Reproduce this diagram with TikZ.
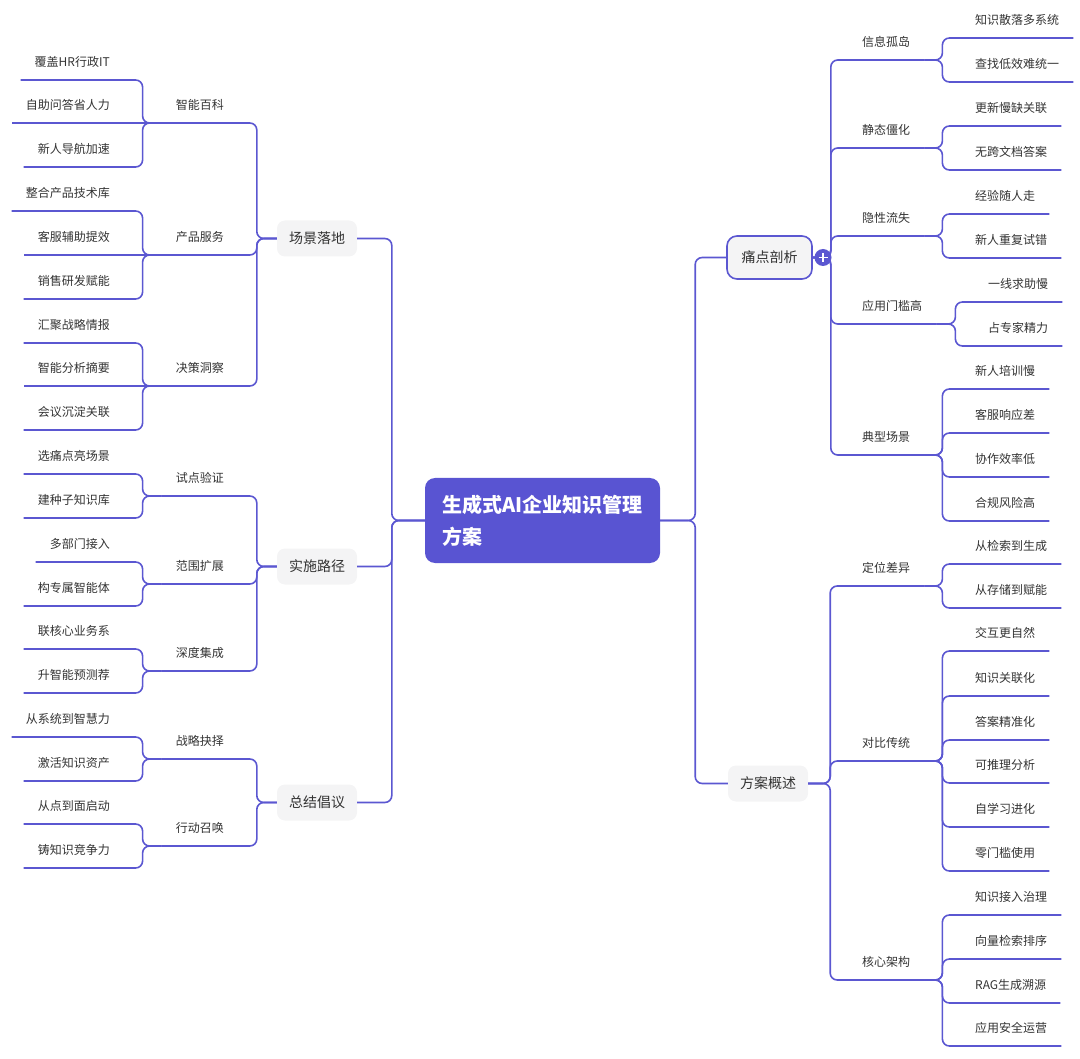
\documentclass[tikz,border=0pt]{standalone}
\usepackage{fontspec}
\setmainfont{Noto Sans CJK SC}
\usetikzlibrary{positioning}
\definecolor{mmline}{HTML}{5B57D1}
\definecolor{mmfill}{HTML}{5954D2}
\definecolor{topicfill}{HTML}{F4F4F5}
\definecolor{ink}{HTML}{333333}

\begin{document}
\begin{tikzpicture}[
        x=1pt, y=-1pt,
        link/.style={draw=mmline, line width=1.6pt, rounded corners=7pt},
        hub/.style={fill=mmfill, rounded corners=10pt, text=white, align=left, inner sep=0pt,
            minimum width=235pt, minimum height=85pt, font=\fontsize{20}{32}\selectfont\bfseries},
        topic/.style={fill=topicfill, rounded corners=8pt, text=ink, inner sep=0pt,
            minimum width=80pt, minimum height=36pt, font=\fontsize{14}{17}\selectfont},
        sub/.style={text=ink, inner xsep=14pt, inner ysep=0pt, text height=10pt, text depth=13.5pt,
            font=\fontsize{12}{14}\selectfont},
        lleaf/.style={sub, anchor=south east},
        rleaf/.style={sub, anchor=south west},
        fold/.style={circle, fill=mmline, inner sep=0pt, minimum size=17pt,
            path picture={
                \draw[white, line width=1.8pt]
                    ([xshift=-4.5pt]path picture bounding box.center) -- ([xshift=4.5pt]path picture bounding box.center)
                    ([yshift=-4.5pt]path picture bounding box.center) -- ([yshift=4.5pt]path picture bounding box.center);
            }}
    ]
        \useasboundingbox (0,0) rectangle (1080,1059);

        % Root
        \node[hub] (root) at (542.5,520.5) {生成式AI企业知识管理\\方案};

        % Main topics
        \node[topic] (scene) at (317,238.5) {场景落地};
        \node[topic] (route) at (317,566.5) {实施路径};
        \node[topic] (summ) at (317,802.5) {总结倡议};
        \node[topic, draw=mmline, line width=1.6pt, rounded corners=10pt, minimum width=85pt, minimum height=43pt] (pain) at (769.5,257.5) {痛点剖析};
        \node[topic] (plan) at (768,783.5) {方案概述};

        % Left subtopics
        \node[lleaf] (wiki) at (238,123) {智能百科};
        \node[lleaf] (prod) at (238,255) {产品服务};
        \node[lleaf] (deci) at (238,386) {决策洞察};
        \node[lleaf] (pilot) at (238,496) {试点验证};
        \node[lleaf] (scale) at (238,584) {范围扩展};
        \node[lleaf] (integ) at (238,671) {深度集成};
        \node[lleaf] (strat) at (238,759) {战略抉择};
        \node[lleaf] (act) at (238,846) {行动召唤};

        % Right subtopics
        \node[rleaf] (silo) at (848,60) {信息孤岛};
        \node[rleaf] (stale) at (848,148) {静态僵化};
        \node[rleaf] (tacit) at (848,236) {隐性流失};
        \node[rleaf] (gate) at (848,324) {应用门槛高};
        \node[rleaf] (cases) at (848,455) {典型场景};
        \node[rleaf] (posit) at (848,586) {定位差异};
        \node[rleaf] (comp) at (848,761) {对比传统};
        \node[rleaf] (arch) at (848,980) {核心架构};

        % Left leaves
        \node[lleaf] (wiki1) at (124,80) {覆盖HR行政IT};
        \node[lleaf] (wiki2) at (124,123) {自助问答省人力};
        \node[lleaf] (wiki3) at (124,167) {新人导航加速};
        \node[lleaf] (prod1) at (124,211) {整合产品技术库};
        \node[lleaf] (prod2) at (124,255) {客服辅助提效};
        \node[lleaf] (prod3) at (124,299) {销售研发赋能};
        \node[lleaf] (deci1) at (124,343) {汇聚战略情报};
        \node[lleaf] (deci2) at (124,386) {智能分析摘要};
        \node[lleaf] (deci3) at (124,430) {会议沉淀关联};
        \node[lleaf] (pilot1) at (124,474) {选痛点亮场景};
        \node[lleaf] (pilot2) at (124,518) {建种子知识库};
        \node[lleaf] (scale1) at (124,562) {多部门接入};
        \node[lleaf] (scale2) at (124,606) {构专属智能体};
        \node[lleaf] (integ1) at (124,649) {联核心业务系};
        \node[lleaf] (integ2) at (124,693) {升智能预测荐};
        \node[lleaf] (strat1) at (124,737) {从系统到智慧力};
        \node[lleaf] (strat2) at (124,781) {激活知识资产};
        \node[lleaf] (act1) at (124,824) {从点到面启动};
        \node[lleaf] (act2) at (124,868) {铸知识竞争力};

        % Right leaves
        \node[rleaf] (silo1) at (961,38) {知识散落多系统};
        \node[rleaf] (silo2) at (961,82) {查找低效难统一};
        \node[rleaf] (stale1) at (961,126) {更新慢缺关联};
        \node[rleaf] (stale2) at (961,170) {无跨文档答案};
        \node[rleaf] (tacit1) at (961,214) {经验随人走};
        \node[rleaf] (tacit2) at (961,258) {新人重复试错};
        \node[rleaf] (gate1) at (974,302) {一线求助慢};
        \node[rleaf] (gate2) at (974,346) {占专家精力};
        \node[rleaf] (cases1) at (961,389) {新人培训慢};
        \node[rleaf] (cases2) at (961,433) {客服响应差};
        \node[rleaf] (cases3) at (961,477) {协作效率低};
        \node[rleaf] (cases4) at (961,521) {合规风险高};
        \node[rleaf] (posit1) at (961,564) {从检索到生成};
        \node[rleaf] (posit2) at (961,608) {从存储到赋能};
        \node[rleaf] (comp1) at (961,651) {交互更自然};
        \node[rleaf] (comp2) at (961,696) {知识关联化};
        \node[rleaf] (comp3) at (961,740) {答案精准化};
        \node[rleaf] (comp4) at (961,783) {可推理分析};
        \node[rleaf] (comp5) at (961,827) {自学习进化};
        \node[rleaf] (comp6) at (961,871) {零门槛使用};
        \node[rleaf] (arch1) at (961,915) {知识接入治理};
        \node[rleaf] (arch2) at (961,959) {向量检索排序};
        \node[rleaf] (arch3) at (961,1003) {RAG生成溯源};
        \node[rleaf] (arch4) at (961,1046) {应用安全运营};

        % Root to main topics
        \draw[link] (root.west) -- ++(-33,0) |- (scene.east);
        \draw[link] (root.west) -- ++(-33,0) |- (route.east);
        \draw[link] (root.west) -- ++(-33,0) |- (summ.east);
        \draw[link] (root.east) -- ++(35,0) |- (pain.west);
        \draw[link] (root.east) -- ++(35,0) |- (plan.west);

        % Main topics to subtopics
        \draw[link] (scene.west) -- ++(-20,0) |- (wiki.south east) -- (wiki.south west);
        \draw[link] (scene.west) -- ++(-20,0) |- (prod.south east) -- (prod.south west);
        \draw[link] (scene.west) -- ++(-20,0) |- (deci.south east) -- (deci.south west);
        \draw[link] (route.west) -- ++(-20,0) |- (pilot.south east) -- (pilot.south west);
        \draw[link] (route.west) -- ++(-20,0) |- (scale.south east) -- (scale.south west);
        \draw[link] (route.west) -- ++(-20,0) |- (integ.south east) -- (integ.south west);
        \draw[link] (summ.west) -- ++(-20,0) |- (strat.south east) -- (strat.south west);
        \draw[link] (summ.west) -- ++(-20,0) |- (act.south east) -- (act.south west);
        \draw[link] (pain.east) -- ++(18,0) |- (silo.south west) -- (silo.south east);
        \draw[link] (pain.east) -- ++(18,0) |- (stale.south west) -- (stale.south east);
        \draw[link] (pain.east) -- ++(18,0) |- (tacit.south west) -- (tacit.south east);
        \draw[link] (pain.east) -- ++(18,0) |- (gate.south west) -- (gate.south east);
        \draw[link] (pain.east) -- ++(18,0) |- (cases.south west) -- (cases.south east);
        \draw[link] (plan.east) -- ++(22,0) |- (posit.south west) -- (posit.south east);
        \draw[link] (plan.east) -- ++(22,0) |- (comp.south west) -- (comp.south east);
        \draw[link] (plan.east) -- ++(22,0) |- (arch.south west) -- (arch.south east);

        % Subtopics to leaves, left
        \draw[link] (wiki.south west) -- ++(-19,0) |- (wiki1.south east) -- (wiki1.south west);
        \draw[link] (wiki.south west) -- (wiki2.south east) -- (wiki2.south west);
        \draw[link] (wiki.south west) -- ++(-19,0) |- (wiki3.south east) -- (wiki3.south west);
        \draw[link] (prod.south west) -- ++(-19,0) |- (prod1.south east) -- (prod1.south west);
        \draw[link] (prod.south west) -- (prod2.south east) -- (prod2.south west);
        \draw[link] (prod.south west) -- ++(-19,0) |- (prod3.south east) -- (prod3.south west);
        \draw[link] (deci.south west) -- ++(-19,0) |- (deci1.south east) -- (deci1.south west);
        \draw[link] (deci.south west) -- (deci2.south east) -- (deci2.south west);
        \draw[link] (deci.south west) -- ++(-19,0) |- (deci3.south east) -- (deci3.south west);
        \draw[link] (pilot.south west) -- ++(-19,0) |- (pilot1.south east) -- (pilot1.south west);
        \draw[link] (pilot.south west) -- ++(-19,0) |- (pilot2.south east) -- (pilot2.south west);
        \draw[link] (scale.south west) -- ++(-19,0) |- (scale1.south east) -- (scale1.south west);
        \draw[link] (scale.south west) -- ++(-19,0) |- (scale2.south east) -- (scale2.south west);
        \draw[link] (integ.south west) -- ++(-19,0) |- (integ1.south east) -- (integ1.south west);
        \draw[link] (integ.south west) -- ++(-19,0) |- (integ2.south east) -- (integ2.south west);
        \draw[link] (strat.south west) -- ++(-19,0) |- (strat1.south east) -- (strat1.south west);
        \draw[link] (strat.south west) -- ++(-19,0) |- (strat2.south east) -- (strat2.south west);
        \draw[link] (act.south west) -- ++(-19,0) |- (act1.south east) -- (act1.south west);
        \draw[link] (act.south west) -- ++(-19,0) |- (act2.south east) -- (act2.south west);

        % Subtopics to leaves, right
        \draw[link] (silo.south east) -- ++(18,0) |- (silo1.south west) -- (silo1.south east);
        \draw[link] (silo.south east) -- ++(18,0) |- (silo2.south west) -- (silo2.south east);
        \draw[link] (stale.south east) -- ++(18,0) |- (stale1.south west) -- (stale1.south east);
        \draw[link] (stale.south east) -- ++(18,0) |- (stale2.south west) -- (stale2.south east);
        \draw[link] (tacit.south east) -- ++(18,0) |- (tacit1.south west) -- (tacit1.south east);
        \draw[link] (tacit.south east) -- ++(18,0) |- (tacit2.south west) -- (tacit2.south east);
        \draw[link] (gate.south east) -- ++(19,0) |- (gate1.south west) -- (gate1.south east);
        \draw[link] (gate.south east) -- ++(19,0) |- (gate2.south west) -- (gate2.south east);
        \draw[link] (cases.south east) -- ++(18,0) |- (cases1.south west) -- (cases1.south east);
        \draw[link] (cases.south east) -- ++(18,0) |- (cases2.south west) -- (cases2.south east);
        \draw[link] (cases.south east) -- ++(18,0) |- (cases3.south west) -- (cases3.south east);
        \draw[link] (cases.south east) -- ++(18,0) |- (cases4.south west) -- (cases4.south east);
        \draw[link] (posit.south east) -- ++(18,0) |- (posit1.south west) -- (posit1.south east);
        \draw[link] (posit.south east) -- ++(18,0) |- (posit2.south west) -- (posit2.south east);
        \draw[link] (comp.south east) -- ++(18,0) |- (comp1.south west) -- (comp1.south east);
        \draw[link] (comp.south east) -- ++(18,0) |- (comp2.south west) -- (comp2.south east);
        \draw[link] (comp.south east) -- ++(18,0) |- (comp3.south west) -- (comp3.south east);
        \draw[link] (comp.south east) -- ++(18,0) |- (comp4.south west) -- (comp4.south east);
        \draw[link] (comp.south east) -- ++(18,0) |- (comp5.south west) -- (comp5.south east);
        \draw[link] (comp.south east) -- ++(18,0) |- (comp6.south west) -- (comp6.south east);
        \draw[link] (arch.south east) -- ++(18,0) |- (arch1.south west) -- (arch1.south east);
        \draw[link] (arch.south east) -- ++(18,0) |- (arch2.south west) -- (arch2.south east);
        \draw[link] (arch.south east) -- ++(18,0) |- (arch3.south west) -- (arch3.south east);
        \draw[link] (arch.south east) -- ++(18,0) |- (arch4.south west) -- (arch4.south east);

        % Collapse button
        \node[fold] (foldpain) at (823,257.5) {};
    \end{tikzpicture}
\end{document}
